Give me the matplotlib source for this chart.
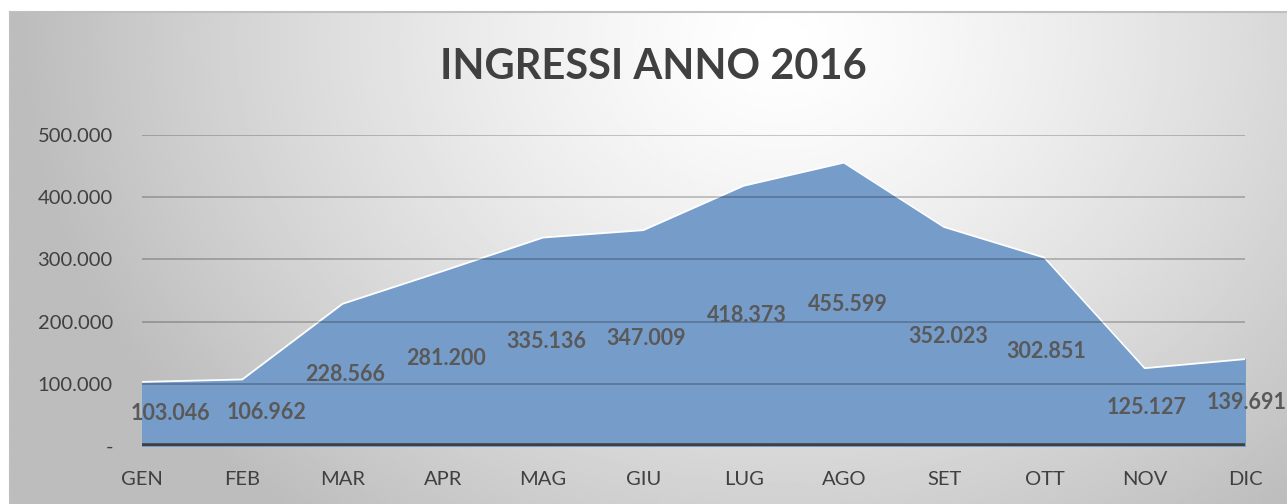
import numpy as np
import matplotlib.pyplot as plt

months = ['GEN', 'FEB', 'MAR', 'APR', 'MAG', 'GIU', 'LUG', 'AGO', 'SET', 'OTT', 'NOV', 'DIC']
ingressi = [103046, 106962, 228566, 281200, 335136, 347009, 418373, 455599,
            352023, 302851, 125127, 139691]
yticks = [0, 100000, 200000, 300000, 400000, 500000]


def fmt_it(v):
    # excel style: thousands with dots, zero shown as "-"
    if v == 0:
        return '-'
    return '{:,}'.format(int(v)).replace(',', '.')


W, H = 1287, 504
fig = plt.figure(figsize=(W / 100, H / 100), dpi=100, facecolor='white')
plt.rcParams['font.family'] = ['Lato', 'DejaVu Sans']

# chart area with radial gray gradient
bg = fig.add_axes([10 / W, 0, 1 - 10 / W, (H - 12) / H])
gx, gy = np.meshgrid(np.linspace(10, W, 400), np.linspace(12, H, 200))
r = np.sqrt(((gx - 780) / 760) ** 2 + ((gy - 40) / 620) ** 2)
shade = 1.0 - 0.26 * np.clip(r, 0, 1.0) ** 1.3
bg.imshow(shade, cmap='gray', vmin=0, vmax=1, aspect='auto',
          extent=[0, 1, 0, 1], interpolation='bilinear')
bg.set_xlim(0, 1)
bg.set_ylim(0, 1)
bg.set_xticks([])
bg.set_yticks([])
for side in ['right', 'bottom']:
    bg.spines[side].set_visible(False)
for side in ['top', 'left']:
    bg.spines[side].set_color('#bfbfbf')
    bg.spines[side].set_linewidth(1.5)

ax = fig.add_axes([142 / W, (H - 446) / H, (1245 - 142) / W, (446 - 135) / H])
ax.patch.set_alpha(0)
x = np.arange(len(months))
ax.fill_between(x, ingressi, 0, color='#769cc9', zorder=1)
ax.plot(x, ingressi, color='white', lw=1.3, zorder=2)

for t in yticks[1:]:
    ax.axhline(t, color='black', alpha=0.25, lw=1.2, zorder=3)
ax.axhline(0, color='#404040', lw=4, zorder=4)

ax.set_xlim(0, len(months) - 1)
ax.set_ylim(0, 500000)
ax.set_xticks(x)
ax.set_xticklabels(months)
ax.set_yticks(yticks)
ax.set_yticklabels([fmt_it(t) for t in yticks])
ax.tick_params(length=0, labelsize=14.5, colors='#404040')
ax.tick_params(axis='x', pad=18)
ax.tick_params(axis='y', pad=21)
for s in ax.spines.values():
    s.set_visible(False)

# data labels sit at half height, first two pushed right like excel does
nudge = [28, 24, 3, 3, 3, 3, 3, 4, 4, 2, 2, 2]
for i, v in enumerate(ingressi):
    ax.annotate(fmt_it(v), (i, v / 2), xytext=(nudge[i], 0),
                textcoords='offset pixels', ha='center', va='center',
                fontsize=15.5, fontweight='bold', color='#595959',
                zorder=5, annotation_clip=False)

fig.text(653 / W, 1 - 67 / H, 'INGRESSI ANNO 2016', ha='center', va='center',
         fontsize=30, fontweight='bold', color='#404040')

fig.savefig('out.png', dpi=100)
